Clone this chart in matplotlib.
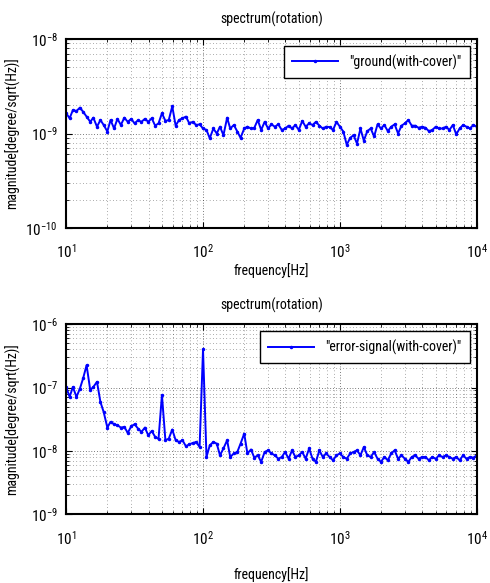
import matplotlib
matplotlib.use('Agg')
import matplotlib.pyplot as plt
from matplotlib.ticker import NullFormatter

plt.rcParams['font.family'] = ['Roboto Condensed', 'DejaVu Sans']
plt.rcParams['mathtext.fontset'] = 'custom'
plt.rcParams['mathtext.rm'] = 'Roboto Condensed'
plt.rcParams['mathtext.it'] = 'Roboto Condensed'

# frequency grid [Hz]
freq = [10.0, 10.6, 11.2, 11.9, 12.6, 13.3, 14.1, 15.0, 15.8, 16.8,
        17.8, 18.8, 20.0, 21.1, 22.4, 23.7, 25.1, 26.6, 28.2, 29.9,
        31.6, 33.5, 35.5, 37.6, 39.8, 42.2, 44.7, 47.3, 50.1, 53.1,
        56.2, 59.6, 63.1, 66.8, 70.8, 75.0, 79.4, 84.1, 89.1, 94.4,
        100, 106, 112, 119, 126, 133, 141, 150, 158, 168,
        178, 188, 200, 211, 224, 237, 251, 266, 282, 299,
        316, 335, 355, 376, 398, 422, 447, 473, 501, 531,
        562, 596, 631, 668, 708, 750, 794, 841, 891, 944,
        1000, 1059, 1122, 1189, 1259, 1334, 1413, 1496, 1585, 1679,
        1778, 1884, 1995, 2113, 2239, 2371, 2512, 2661, 2818, 2985,
        3162, 3350, 3548, 3758, 3981, 4217, 4467, 4732, 5012, 5309,
        5623, 5957, 6310, 6683, 7079, 7499, 7943, 8414, 8913, 9441,
        10000]

# ground (with cover), units of 1e-9 degree/sqrt(Hz)
ground = [1.64, 1.45, 1.77, 1.73, 1.88, 1.70, 1.51, 1.33, 1.47, 1.18,
          1.39, 1.23, 1.05, 1.39, 1.13, 1.43, 1.23, 1.47, 1.33, 1.43,
          1.28, 1.38, 1.33, 1.43, 1.33, 1.45, 1.21, 1.28, 1.64, 1.36,
          1.39, 1.94, 1.21, 1.39, 1.45, 1.51, 1.28, 1.33, 1.23, 1.25,
          1.13, 1.09, 0.89, 1.13, 1.00, 1.18, 0.96, 1.47, 1.13, 1.23,
          1.05, 0.90, 1.13, 1.18, 1.13, 1.15, 1.39, 1.09, 1.33, 1.13,
          1.25, 1.18, 1.25, 1.09, 1.13, 1.21, 1.13, 1.23, 1.09, 1.36,
          1.18, 1.28, 1.23, 1.33, 1.21, 1.13, 1.18, 1.17, 1.09, 1.33,
          1.18, 1.05, 0.76, 0.90, 0.96, 0.78, 1.13, 0.84, 1.06, 1.13,
          0.93, 1.25, 1.13, 1.23, 1.06, 1.18, 1.25, 1.00, 1.21, 1.28,
          1.39, 1.21, 1.21, 1.15, 1.18, 1.15, 1.06, 1.09, 1.18, 1.13,
          1.13, 1.18, 1.09, 1.23, 0.98, 1.13, 1.23, 1.18, 1.13, 1.23,
          1.18]

# error signal (with cover), units of 1e-9 degree/sqrt(Hz)
error_sig = [102, 71, 102, 71, 96, 139, 225, 91, 102, 123,
             59, 41, 23.3, 28.7, 26.3, 25.4, 23.3, 23.9, 19.2, 24.5,
             26.3, 22.5, 19.9, 23.3, 17.6, 20.6, 16.6, 15.4, 76, 14.7,
             15.6, 21.7, 14.7, 13.8, 14.7, 11.8, 12.7, 13.3, 13.8, 11.5,
             398, 8.0, 12.2, 13.8, 13.0, 8.5, 10.9, 14.7, 8.0, 9.1,
             9.6, 13.0, 18.7, 9.1, 10.5, 7.8, 8.5, 6.7, 9.6, 10.2,
             9.1, 8.5, 7.5, 8.0, 9.6, 7.5, 10.2, 8.0, 8.5, 9.6,
             7.5, 10.9, 7.5, 6.7, 10.2, 8.0, 9.1, 8.0, 7.1, 8.5,
             9.1, 8.0, 7.5, 9.1, 9.6, 10.2, 8.5, 11.5, 8.5, 8.0,
             9.6, 7.5, 6.7, 8.0, 7.1, 9.1, 10.2, 7.5, 8.5, 7.5,
             6.7, 8.0, 8.5, 7.5, 8.0, 8.0, 7.1, 8.0, 7.5, 8.5,
             8.0, 8.5, 8.0, 7.5, 8.0, 7.1, 8.5, 7.5, 8.0, 7.8,
             8.5]

# data, legend text, y range, axes box, xlabel offset, title offset
panels = [
    (ground, '"ground(with-cover)"', (1e-10, 1e-8),
     [0.135, 0.609, 0.838, 0.324], -0.185, 1.105),
    (error_sig, '"error-signal(with-cover)"', (1e-9, 1e-6),
     [0.135, 0.118, 0.838, 0.326], -0.28, 1.10),
]

fig = plt.figure(figsize=(4.9, 5.83), dpi=100)

for vals, label, ylim, pos, xl_y, t_y in panels:
    ax = fig.add_axes(pos)
    ax.plot(freq, [v * 1e-9 for v in vals], color='blue', linewidth=1.4,
            marker='.', markersize=3, label=label)
    ax.set_xscale('log')
    ax.set_yscale('log')
    ax.set_xlim(10, 1e4)
    ax.set_ylim(*ylim)
    ax.yaxis.set_minor_formatter(NullFormatter())
    ax.xaxis.set_minor_formatter(NullFormatter())
    ax.grid(True, which='major', color='black', linestyle=(0, (1, 3)), linewidth=0.5)
    ax.grid(True, which='minor', color='black', linestyle=(0, (1, 5)), linewidth=0.4)
    ax.tick_params(which='both', direction='in', top=True, right=True, labelsize=11)
    ax.tick_params(axis='x', which='both', pad=11)
    ax.tick_params(axis='y', which='both', pad=6)
    ax.tick_params(which='major', length=4)
    ax.tick_params(which='minor', length=2)
    for s in ax.spines.values():
        s.set_linewidth(1.5)
    ax.text(0.5, t_y, 'spectrum(rotation)', transform=ax.transAxes,
            ha='center', va='center', fontsize=10)
    ax.set_xlabel('frequency[Hz]', fontsize=10)
    ax.xaxis.set_label_coords(0.5, xl_y)
    ax.set_ylabel('magnitude[degree/sqrt(Hz)]', fontsize=10)
    ax.yaxis.set_label_coords(-0.112, 0.5)
    leg = ax.legend(loc='upper right', fontsize=10, fancybox=False,
                    edgecolor='black', framealpha=1, borderaxespad=0.5,
                    borderpad=0.6, handlelength=3.3)
    leg.get_frame().set_linewidth(1.0)

fig.savefig('out.png', dpi=100)
